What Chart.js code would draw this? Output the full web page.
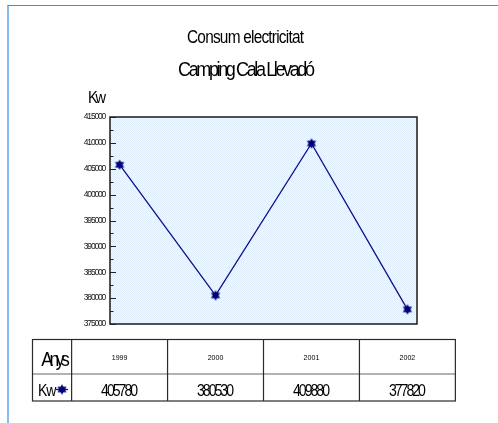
<!DOCTYPE html>
<html>
<head>
<meta charset="utf-8">
<script src="https://cdn.jsdelivr.net/npm/chart.js@4.4.0/dist/chart.umd.min.js"></script>
<style>
html, body { margin: 0; padding: 0; background: #fff; }
#frame { position: absolute; left: 7px; top: 5px; width: 491px; height: 418px;
         border-top: 1px solid #3b8de6; border-left: 2px solid #85bcf3; }
#wrap { position: absolute; left: 0; top: 0; width: 498px; height: 423px; }
</style>
</head>
<body>
<div id="frame"></div>
<div id="wrap"><canvas id="grafic" width="498" height="423"></canvas></div>
<script>
// dades
const anys = [1999, 2000, 2001, 2002];
const kw = [405780, 380530, 409880, 377820];
const kwText = ['405780', '380530', '409880', '377820'];
const yLabels = [375000, 380000, 385000, 390000, 395000, 400000, 405000, 410000, 415000];

const FONT = '"Liberation Sans", Arial, sans-serif';

// marcador estrella de sis puntes
function estrella() {
    const c = document.createElement('canvas');
    c.width = 12; c.height = 12;
    const g = c.getContext('2d');
    g.fillStyle = '#00007a';
    [-Math.PI / 2, Math.PI / 2].forEach(off => {
        g.beginPath();
        for (let k = 0; k < 3; k++) {
            const a = off + k * 2 * Math.PI / 3;
            g.lineTo(6 + 5.3 * Math.cos(a), 6 + 5.3 * Math.sin(a));
        }
        g.closePath();
        g.fill();
    });
    return c;
}
const marker = estrella();

// fons quadriculat
function trama(ctx) {
    const c = document.createElement('canvas');
    c.width = 2; c.height = 2;
    const g = c.getContext('2d');
    g.fillStyle = '#f5f9ff';
    g.fillRect(0, 0, 2, 2);
    g.fillStyle = '#deecfb';
    g.fillRect(0, 0, 1, 1);
    g.fillRect(1, 1, 1, 1);
    return ctx.createPattern(c, 'repeat');
}

// text estret: amplada final = ample (lletres juntes com a l'original)
function text(ctx, s, x, y, size, ample, align, sx) {
    sx = sx || 0.88;
    ctx.save();
    ctx.font = size + 'px ' + FONT;
    ctx.letterSpacing = '0px';
    ctx.fillStyle = '#000';
    ctx.textAlign = 'left';
    ctx.textBaseline = 'alphabetic';
    const w0 = ctx.measureText(s).width * sx;
    const sp = s.length > 1 ? (ample - w0) / (s.length - 1) : 0;
    ctx.letterSpacing = (sp / sx) + 'px';
    let x0 = x;
    if (align === 'center') x0 = x - ample / 2;
    ctx.translate(x0, y);
    ctx.scale(sx, 1);
    ctx.fillText(s, 0, 0);
    ctx.restore();
}

const decorat = {
    id: 'decorat',
    beforeDraw(chart) {
        chart.ctx.letterSpacing = '-1.2px';
    },
    beforeDatasetsDraw(chart) {
        const a = chart.chartArea;
        const ctx = chart.ctx;
        ctx.save();
        ctx.fillStyle = trama(ctx);
        ctx.fillRect(a.left, a.top, a.right - a.left, a.bottom - a.top);
        ctx.restore();
    },
    afterDraw(chart) {
        const ctx = chart.ctx;
        ctx.letterSpacing = '0px';
        const a = chart.chartArea;
        const xs = chart.scales.x;
        const ys = chart.scales.y;

        // marc de la gràfica
        ctx.save();
        ctx.strokeStyle = '#1a1a1a';
        ctx.lineWidth = 1.5;
        ctx.strokeRect(a.left, a.top, a.right - a.left, a.bottom - a.top);

        // marques cap a dins
        ctx.lineWidth = 1;
        ctx.strokeStyle = '#222';
        ys.ticks.forEach(t => {
            const y = Math.round(ys.getPixelForValue(t.value)) + 0.5;
            const len = yLabels.includes(t.value) ? 6 : 3.5;
            ctx.beginPath();
            ctx.moveTo(a.left, y);
            ctx.lineTo(a.left + len, y);
            ctx.stroke();
        });
        ctx.restore();

        // títols
        text(ctx, 'Consum electricitat', 245.5, 43, 17.5, 117, 'center');
        text(ctx, 'Camping Cala Llevadó', 246.5, 76, 20.5, 137, 'center');
        text(ctx, 'Kw', 88, 102.5, 16.5, 18, 'left');

        // taula de dades
        const left = 32.5, top = 339.5, mid = 374, bottom = 401;
        const cols = anys.map(v => xs.getPixelForValue(v - 0.5));
        cols.push(xs.getPixelForValue(anys[anys.length - 1] + 0.5));
        const right = cols[cols.length - 1];

        ctx.save();
        ctx.strokeStyle = '#666';
        ctx.lineWidth = 1.2;
        ctx.beginPath();
        ctx.moveTo(left, mid);
        ctx.lineTo(right, mid);
        ctx.stroke();
        ctx.strokeStyle = '#2a2a2a';
        ctx.strokeRect(left, top, right - left, bottom - top);
        cols.slice(0, -1).forEach(x => {
            ctx.beginPath();
            ctx.moveTo(x, top);
            ctx.lineTo(x, bottom);
            ctx.stroke();
        });
        ctx.restore();

        text(ctx, 'Anys', 41.3, 365.5, 20, 28.5, 'left');
        text(ctx, 'Kw', 38, 396, 16, 18.3, 'left');

        // llegenda de la sèrie
        ctx.save();
        ctx.strokeStyle = '#10108a';
        ctx.lineWidth = 1.3;
        ctx.beginPath();
        ctx.moveTo(56, 389.5);
        ctx.lineTo(68, 389.5);
        ctx.stroke();
        ctx.drawImage(marker, 62 - 6, 389.5 - 6);
        ctx.restore();

        anys.forEach((v, i) => {
            const cx = xs.getPixelForValue(v);
            text(ctx, String(v), cx, 360, 8, 15.7, 'center');
            text(ctx, kwText[i], cx, 396, 16, 37, 'center');
        });
    }
};

const ctx = document.getElementById('grafic').getContext('2d');
const grafic = new Chart(ctx, {
    type: 'line',
    data: {
        datasets: [{
            label: 'Kw',
            data: anys.map((v, i) => ({ x: v, y: kw[i] })),
            borderColor: '#10108a',
            borderWidth: 1.3,
            pointStyle: marker,
            pointRadius: 6,
            tension: 0,
            fill: false
        }]
    },
    options: {
        responsive: false,
        animation: false,
        devicePixelRatio: 1,
        layout: {
            padding: { left: 0, top: 117, right: 81, bottom: 99 }
        },
        plugins: {
            legend: { display: false },
            tooltip: { enabled: false }
        },
        scales: {
            x: {
                type: 'linear',
                display: false,
                min: 1998.9,
                max: 2002.1
            },
            y: {
                min: 375000,
                max: 415000,
                afterFit(scale) { scale.width = 110; },
                border: { display: false },
                grid: { display: false, drawTicks: false },
                ticks: {
                    stepSize: 2500,
                    autoSkip: false,
                    padding: 5,
                    color: '#111',
                    font: { family: FONT, size: 8.5 },
                    callback: v => yLabels.includes(v) ? String(v) : ''
                }
            }
        }
    },
    plugins: [decorat]
});
</script>
</body>
</html>
